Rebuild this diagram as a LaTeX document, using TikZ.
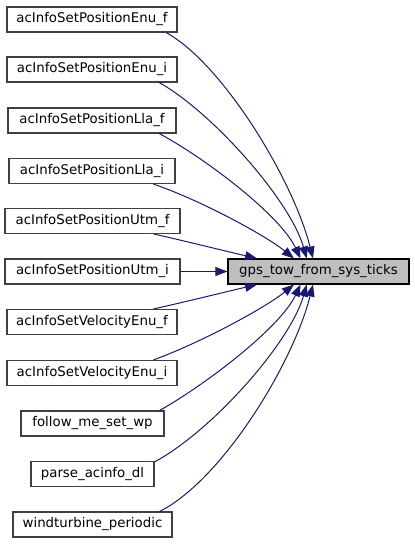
\documentclass[tikz,border=0pt]{standalone}
\usepackage{fontspec}
\setmainfont{DejaVu Sans}
\usetikzlibrary{arrows.meta}
\definecolor{edgeblue}{RGB}{25,25,112}
\definecolor{boxborder}{RGB}{64,64,64}
\definecolor{grey75}{RGB}{191,191,191}
\begin{document}
\begin{tikzpicture}[x=1pt,y=-1pt,
  box/.style={draw=boxborder, fill=white, line width=1.1pt, minimum height=25pt, inner sep=1pt,
    font=\fontsize{13.33}{16}\selectfont},
  focal/.style={box, draw=black, fill=grey75},
  edge/.style={draw=edgeblue, line width=1pt, -{Triangle[length=12pt,width=9pt]}}]
\useasboundingbox (0,0) rectangle (415,544);
\node[focal, minimum width=181pt] (g) at (318.5,271.5) {gps\_tow\_from\_sys\_ticks};
\node[box, minimum width=170pt] (n1) at (92,19.5) {acInfoSetPositionEnu\_f};
\node[box, minimum width=170pt] (n2) at (92,69.5) {acInfoSetPositionEnu\_i};
\node[box, minimum width=168pt] (n3) at (92,120.5) {acInfoSetPositionLla\_f};
\node[box, minimum width=166pt] (n4) at (92,171) {acInfoSetPositionLla\_i};
\node[box, minimum width=175pt] (n5) at (92.5,221) {acInfoSetPositionUtm\_f};
\node[box, minimum width=175pt] (n6) at (92.5,271.5) {acInfoSetPositionUtm\_i};
\node[box, minimum width=170pt] (n7) at (92,322) {acInfoSetVelocityEnu\_f};
\node[box, minimum width=170pt] (n8) at (92,373) {acInfoSetVelocityEnu\_i};
\node[box, minimum width=143pt] (n9) at (92.5,423.5) {follow\_me\_set\_wp};
\node[box, minimum width=123pt] (n10) at (92.5,474) {parse\_acinfo\_dl};
\node[box, minimum width=159pt] (n11) at (92.5,524.5) {windturbine\_periodic};
% upper edges
\draw[edge] (n1.-10.7) .. controls (222,63) and (293,179) .. (g.113.75);
\draw[edge] (n2.-11.2) .. controls (212,112) and (290,200) .. (g.132.6);
\draw[edge] (n3.-11.6) .. controls (205,158) and (280,215) .. (g.144.5);
\draw[edge] (n4.-12.2) .. controls (200,200) and (265,235) .. (g.152);
\draw[edge] (n5.-12.3) .. controls (185,241) and (225,251) .. (g.168.7);
\draw[edge] (n6.east) -- (g.west);
% lower edges
\draw[edge] (n7.12.2) .. controls (185,302) and (225,292) .. (g.-168.7);
\draw[edge] (n8.12.8) .. controls (200,343) and (265,308) .. (g.-152);
\draw[edge] (n9.11.7) .. controls (205,385) and (280,328) .. (g.-144.5);
\draw[edge] (n10.11.3) .. controls (212,431) and (290,343) .. (g.-132.6);
\draw[edge] (n11.11) .. controls (222,480) and (293,364) .. (g.-113.75);
\end{tikzpicture}
\end{document}
